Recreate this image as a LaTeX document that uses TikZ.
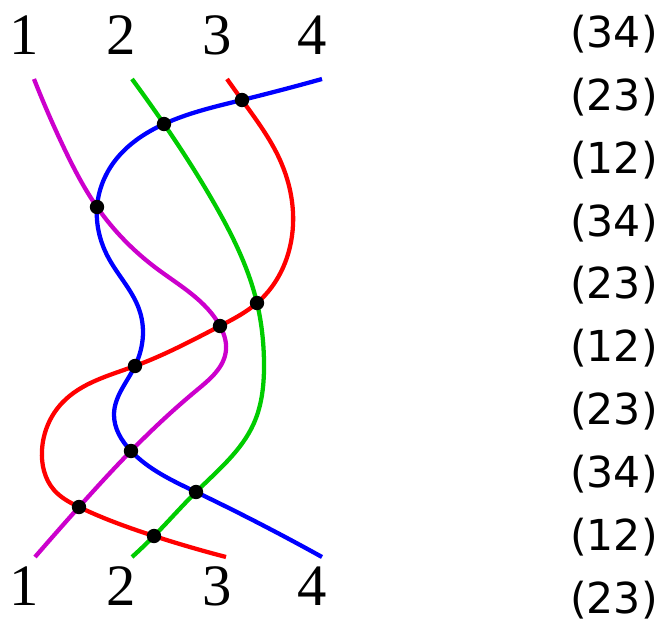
\documentclass[tikz,border=0pt]{standalone}
\usepackage{fontspec}
\setmainfont{Liberation Serif}
\newfontfamily\permfont{DejaVu Sans}
\usetikzlibrary{hobby}
\definecolor{strandA}{RGB}{204,0,204}
\definecolor{strandB}{RGB}{0,204,0}
\definecolor{strandC}{RGB}{255,0,0}
\definecolor{strandD}{RGB}{0,0,255}
\tikzset{
  strand/.style={line width=3.2pt, use Hobby shortcut},
  endlabel/.style={inner sep=0pt, font=\fontsize{44}{50}\selectfont},
  permlabel/.style={inner sep=0pt, font=\permfont\fontsize{32}{38}\selectfont},
}
\begin{document}
\begin{tikzpicture}[x=0.75pt,y=-0.75pt]
\useasboundingbox (0,0) rectangle (662,625);
\node[endlabel] (t1) at (24,35) {1};
\node[endlabel] (t2) at (121,35) {2};
\node[endlabel] (t3) at (217,35) {3};
\node[endlabel] (t4) at (312,35) {4};
\node[endlabel] (b1) at (24,586) {1};
\node[endlabel] (b2) at (121,586) {2};
\node[endlabel] (b3) at (217,586) {3};
\node[endlabel] (b4) at (312,586) {4};

\coordinate (c1) at (242,100);
\coordinate (c2) at (164,124);
\coordinate (c3) at (97,207);
\coordinate (c4) at (257,303);
\coordinate (c5) at (220,326);
\coordinate (c6) at (135,366);
\coordinate (c7) at (131,451);
\coordinate (c8) at (196,492);
\coordinate (c9) at (79,507);
\coordinate (c10) at (154,536);

\draw[strand, strandA] (34,79) .. (64,148) .. (c3) .. (156,268) .. (c5)
  .. (226,350) .. (197,390) .. (c7) .. (c9) .. (35,557);
\draw[strand, strandB] (132,79) .. (c2) .. (214,203) .. (c4)
  .. (264,362) .. (254,423) .. (c8) .. (c10) .. (132,557);
\draw[strand, strandC] (227,79) .. (c1) .. (280,160) .. (293,225)
  .. (c4) .. (c5) .. (c6) .. (62,403) .. (42,450) .. (54,490) .. (c9)
  .. (c10) .. (226,557);
\draw[strand, strandD] (322,79) .. (c1) .. (c2) .. (114,162) .. (c3)
  .. (108,257) .. (140,312) .. (c6) .. (114,414) .. (c7) .. (c8) .. (322,557);

\foreach \c in {c1,c2,c3,c4,c5,c6,c7,c8,c9,c10}
  \fill (\c) circle (5.4pt);

\foreach \t [count=\i from 0] in {34,23,12,34,23,12,23,34,12,23}
  \node[permlabel] (p\i) at (614,34+62.9*\i) {(\t)};
\end{tikzpicture}
\end{document}
